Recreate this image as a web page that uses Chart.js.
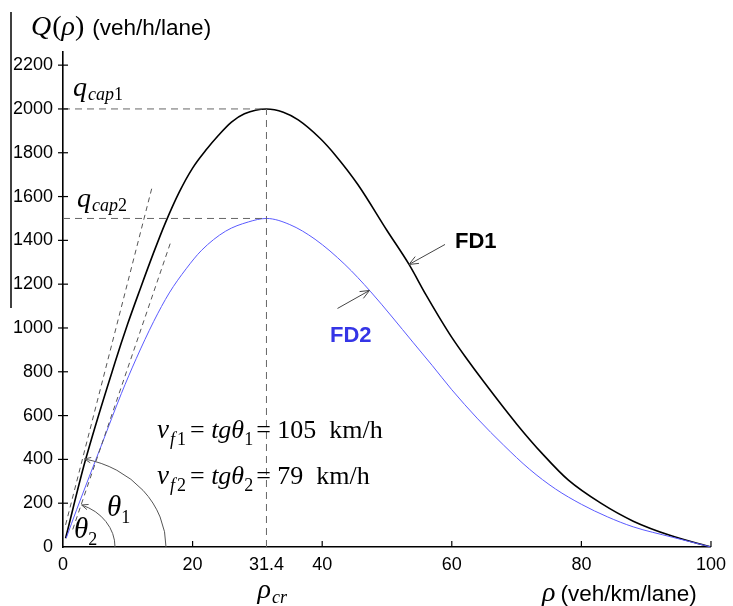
<!DOCTYPE html>
<html><head><meta charset="utf-8">
<script src="https://cdn.jsdelivr.net/npm/chart.js@4"></script>
<style>html,body{margin:0;padding:0;background:#fff}#c{display:block}</style>
</head><body>
<canvas id="c" width="733" height="606"></canvas>
<script>
// ---- data ----
const rhoFD1 = [0.4, 3.4, 8.0, 10.0, 12.0, 14.0, 15.8, 17.9, 20.0, 22.0, 24.0, 26.0, 28.0, 31.4, 34.0, 36.3, 39.7, 42.0, 45.5, 50.0, 53.4, 56.0, 58.0, 60.0, 62.0, 65.0, 70.0, 74.0, 78.0, 83.0, 88.0, 94.0, 100];
const qFD1   = [40, 390, 840, 1020, 1185, 1345, 1480, 1618, 1730, 1810, 1880, 1940, 1978, 2000, 1985, 1950, 1865, 1790, 1655, 1445, 1290, 1152, 1052, 957, 872, 752, 562, 425, 305, 200, 118, 50, 0];
const rhoFD2 = [0.5, 2.1, 6.0, 9.0, 11.3, 14.0, 16.4, 19.0, 21.4, 25.1, 28.6, 31.4, 35.0, 38.9, 43.5, 47.5, 50.8, 54.0, 57.0, 60.0, 64.0, 68.0, 72.0, 76.0, 80.0, 84.0, 88.0, 94.0, 100];
const qFD2   = [41, 170, 470, 700, 860, 1030, 1160, 1270, 1355, 1442, 1484, 1500, 1472, 1405, 1290, 1165, 1050, 935, 828, 718, 585, 465, 355, 265, 195, 138, 92, 45, 0];
const rhoCr = 31.4;
const qCap1 = 2000;
const qCap2 = 1500;
const tangent1Rho = [0.4, 13.8];
const tangent1Q   = [101, 1649];
const tangent2Rho = [1.5, 16.7];
const tangent2Q   = [80, 1399];
const vf1 = 105, vf2 = 79;
const xTickValues = [0, 20, 31.4, 40, 60, 80, 100];
const xTickMarks  = [20, 40, 60, 80, 100];
const yTickValues = [0, 200, 400, 600, 800, 1000, 1200, 1400, 1600, 1800, 2000, 2200];
const fd1ArrowRho = 53.4;
const fd2ArrowRho = 47.3;

const SERIF = '"Liberation Serif", "DejaVu Serif", serif';
const SANS = '"Liberation Sans", Arial, sans-serif';
const BLUE_LINE = '#5a5aff';
const BLUE_TEXT = '#3535e6';

const pts = (xs, ys) => xs.map((v, i) => ({x: v, y: ys[i]}));
function interp(xs, ys, v){
  for (let i = 1; i < xs.length; i++) if (v <= xs[i]) { const t = (v - xs[i-1]) / (xs[i] - xs[i-1]); return ys[i-1] + t * (ys[i] - ys[i-1]); }
  return ys[ys.length-1];
}
function runs(ctx, x, yb, parts, color){
  ctx.fillStyle = color || '#000'; ctx.textBaseline = 'alphabetic'; ctx.textAlign = 'left';
  let cx = x;
  for (const p of parts){ ctx.font = p.f; ctx.fillText(p.t, cx, yb + (p.dy || 0)); cx += ctx.measureText(p.t).width + (p.gap || 0); }
  return cx;
}
function arrowHead(ctx, tx, ty, dx, dy, size){
  const a = Math.atan2(dy, dx), s = 0.4;
  ctx.beginPath();
  ctx.moveTo(tx - size*Math.cos(a - s), ty - size*Math.sin(a - s));
  ctx.lineTo(tx, ty);
  ctx.lineTo(tx - size*Math.cos(a + s), ty - size*Math.sin(a + s));
  ctx.stroke();
}

const annot = {
  id: 'annot',
  afterDraw(chart){
    const {ctx, scales: {x, y}} = chart;
    const X = v => x.getPixelForValue(v), Y = v => y.getPixelForValue(v);
    ctx.save();
    // stray vertical rule at the far left (present in the reference)
    ctx.strokeStyle = '#000'; ctx.lineWidth = 1.5;
    ctx.beginPath(); ctx.moveTo(11, 12); ctx.lineTo(11, 308); ctx.stroke();
    // tick marks
    ctx.lineWidth = 1.2;
    xTickMarks.forEach(v => { const px = X(v); ctx.beginPath(); ctx.moveTo(px, Y(0)); ctx.lineTo(px, Y(0) - 6); ctx.stroke(); });
    yTickValues.forEach(v => { if (v === 0) return; const py = Y(v); ctx.beginPath(); ctx.moveTo(X(0) - 5, py); ctx.lineTo(X(0) + 5, py); ctx.stroke(); });

    // angle arcs
    const cx = X(0), cy = Y(0);
    ctx.strokeStyle = '#555'; ctx.lineWidth = 1;
    const arcs = [[103, 90, 78], [52, 45, 69]];
    arcs.forEach(([rx, ry, deg]) => {
      const t = deg * Math.PI / 180;
      ctx.beginPath(); ctx.ellipse(cx, cy, rx, ry, 0, -t, 0); ctx.stroke();
      const tx = cx + rx*Math.cos(t), ty = cy - ry*Math.sin(t);
      arrowHead(ctx, tx, ty, -rx*Math.sin(t), -ry*Math.cos(t), 7);
    });

    // theta labels
    runs(ctx, 107, 516, [{t: 'θ', f: `italic 29px ${SERIF}`}, {t: '1', f: `18px ${SERIF}`, dy: 7}]);
    runs(ctx, 74, 538, [{t: 'θ', f: `italic 29px ${SERIF}`}, {t: '2', f: `18px ${SERIF}`, dy: 7}]);

    // free-flow speed formulas
    const fl = (idx, val, yb) => runs(ctx, 157, yb, [
      {t: 'v', f: `italic 27px ${SERIF}`, gap: 1},
      {t: 'f', f: `italic 18px ${SERIF}`, dy: 7, gap: 2},
      {t: idx, f: `18px ${SERIF}`, dy: 7, gap: 4},
      {t: '= ', f: `26px ${SERIF}`},
      {t: 'tgθ', f: `italic 26px ${SERIF}`},
      {t: idx, f: `18px ${SERIF}`, dy: 7, gap: 3},
      {t: '= ' + val + '  km/h', f: `26px ${SERIF}`}
    ]);
    fl('1', vf1, 438);
    fl('2', vf2, 484);

    // q_cap labels
    runs(ctx, 73, 96, [{t: 'q', f: `italic 28px ${SERIF}`, gap: 1}, {t: 'cap', f: `italic 18px ${SERIF}`, dy: 4}, {t: '1', f: `18px ${SERIF}`, dy: 4}]);
    runs(ctx, 77, 207, [{t: 'q', f: `italic 28px ${SERIF}`, gap: 1}, {t: 'cap', f: `italic 18px ${SERIF}`, dy: 4}, {t: '2', f: `18px ${SERIF}`, dy: 4}]);

    // rho_cr
    runs(ctx, X(rhoCr) - 9, 598, [{t: 'ρ', f: `italic 28px ${SERIF}`, gap: 1}, {t: 'cr', f: `italic 18px ${SERIF}`, dy: 5}]);

    // axis titles
    runs(ctx, 31, 35, [
      {t: 'Q', f: `italic 28px ${SERIF}`, gap: 1}, {t: '(', f: `28px ${SERIF}`},
      {t: 'ρ', f: `italic 28px ${SERIF}`}, {t: ')', f: `28px ${SERIF}`, gap: 8},
      {t: '(veh/h/lane)', f: `22.5px ${SANS}`}]);
    runs(ctx, 542, 601, [{t: 'ρ', f: `italic 28px ${SERIF}`, gap: 5}, {t: '(veh/km/lane)', f: `22.5px ${SANS}`}]);

    // FD labels with arrows
    ctx.strokeStyle = '#444'; ctx.lineWidth = 1;
    let tx = X(fd1ArrowRho), ty = Y(interp(rhoFD1, qFD1, fd1ArrowRho));
    ctx.beginPath(); ctx.moveTo(tx + 36, ty - 20); ctx.lineTo(tx, ty); ctx.stroke();
    arrowHead(ctx, tx, ty, -36, 20, 10);
    runs(ctx, 455, 248, [{t: 'FD1', f: `bold 22px ${SANS}`}]);
    tx = X(fd2ArrowRho); ty = Y(interp(rhoFD2, qFD2, fd2ArrowRho));
    ctx.beginPath(); ctx.moveTo(tx - 32, ty + 18); ctx.lineTo(tx, ty); ctx.stroke();
    arrowHead(ctx, tx, ty, 32, -18, 10);
    runs(ctx, 330, 342, [{t: 'FD2', f: `bold 22px ${SANS}`}], BLUE_TEXT);
    ctx.restore();
  }
};

const dashRef = {borderColor: '#666', borderWidth: 1, borderDash: [7, 5], pointRadius: 0, showLine: true, fill: false};
const dashTan = {borderColor: '#555', borderWidth: 1, borderDash: [5, 4], pointRadius: 0, showLine: true, fill: false};

new Chart(document.getElementById('c'), {
  type: 'scatter',
  data: {
    datasets: [
      {label: 'qcap1', data: [{x: 0, y: qCap1}, {x: rhoCr, y: qCap1}], ...dashRef},
      {label: 'qcap2', data: [{x: 0, y: qCap2}, {x: rhoCr, y: qCap2}], ...dashRef},
      {label: 'rhocr', data: [{x: rhoCr, y: 0}, {x: rhoCr, y: qCap1}], ...dashRef},
      {label: 'tan1', data: pts(tangent1Rho, tangent1Q), ...dashTan},
      {label: 'tan2', data: pts(tangent2Rho, tangent2Q), ...dashTan},
      {label: 'FD2', data: pts(rhoFD2, qFD2), borderColor: BLUE_LINE, borderWidth: 1, pointRadius: 0, showLine: true, cubicInterpolationMode: 'monotone'},
      {label: 'FD1', data: pts(rhoFD1, qFD1), borderColor: '#000', borderWidth: 1.6, pointRadius: 0, showLine: true, cubicInterpolationMode: 'monotone'}
    ]
  },
  options: {
    responsive: false, animation: false,
    layout: {padding: {top: 52, right: 17, left: 0, bottom: 0}},
    plugins: {legend: {display: false}, tooltip: {enabled: false}, title: {display: false}},
    scales: {
      x: {
        type: 'linear', min: 0, max: 100,
        afterBuildTicks: s => { s.ticks = xTickValues.map(v => ({value: v})); },
        afterFit: s => { s.height = 59; },
        ticks: {font: {family: SANS, size: 18}, color: '#000', padding: 7, autoSkip: false, maxRotation: 0, callback: v => String(v)},
        grid: {drawOnChartArea: false, drawTicks: false},
        border: {color: '#000', width: 1.6}
      },
      y: {
        type: 'linear', min: 0, max: 2260,
        afterBuildTicks: s => { s.ticks = yTickValues.map(v => ({value: v})); },
        afterFit: s => { s.width = 63; },
        ticks: {font: {family: SANS, size: 18}, color: '#000', padding: 10, autoSkip: false, callback: v => String(v)},
        grid: {drawOnChartArea: false, drawTicks: false},
        border: {color: '#000', width: 1.6}
      }
    }
  },
  plugins: [annot]
});
</script>
</body></html>
